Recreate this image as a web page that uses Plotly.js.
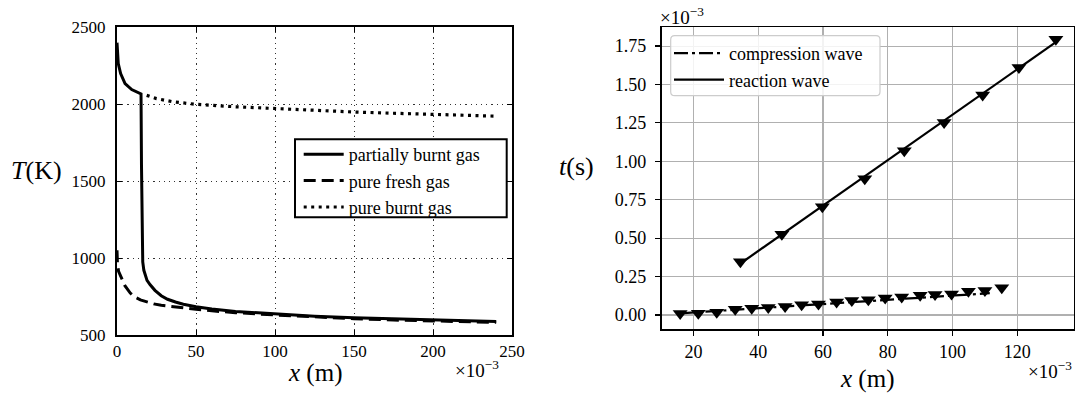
<!DOCTYPE html>
<html>
<head>
<meta charset="utf-8">
<script src="https://cdn.plot.ly/plotly-3.0.1.min.js"></script>
<style>
html,body{margin:0;padding:0;background:#fff;}
#chart{width:1075px;height:394px;}
</style>
</head>
<body>
<div id="chart"></div>
<script>
// ---------- Left panel: temperature profiles (x in 1e-3 m, T in K) ----------
const partialX = [0, 0.8, 2.3, 5.1, 9.3, 14.6, 15.2, 15.5, 15.8, 16.3, 17, 18, 19, 21, 24, 28, 32, 37, 42, 50, 60, 75, 100, 125, 150, 175, 200, 220, 240];
const partialT = [2398, 2263, 2198, 2133, 2094, 2071, 2066, 1600, 1050, 975, 920, 880, 855, 826, 790, 755, 732, 714, 700, 684, 669, 653, 636, 622, 612, 604, 598, 592, 587];

const freshX = [0, 0.3, 1, 3.2, 5, 8.4, 11, 14.8, 19, 23.2, 28, 33.8, 40, 50, 60, 75, 100, 125, 150, 175, 200, 220, 240];
const freshT = [1050, 960, 913, 859, 820, 772, 748, 728, 713, 702, 693, 685, 676, 667, 657, 645, 630, 617, 606, 597, 590, 586, 582];

const burntX = [18.8, 25, 35, 50, 75, 100, 125, 150, 175, 200, 220, 240];
const burntT = [2056, 2035, 2015, 1998, 1982, 1970, 1958, 1948, 1940, 1932, 1926, 1921];

// ---------- Right panel: wave trajectories (x in 1e-3 m, t in 1e-3 s) ----------
const compX = [15.9, 21.5, 27.2, 32.9, 38.0, 43.1, 48.3, 53.4, 58.6, 64.2, 68.9, 74.0, 79.2, 84.3, 90.0, 94.6, 99.7, 104.9, 110.0, 115.2];
const compT = [0.009, 0.011, 0.018, 0.038, 0.044, 0.049, 0.055, 0.066, 0.071, 0.084, 0.095, 0.100, 0.111, 0.117, 0.128, 0.133, 0.137, 0.155, 0.159, 0.177];
const compLineX = [16.0, 111.5];
const compLineT = [0.011, 0.142];

const reacX = [34.5, 47.3, 59.8, 72.9, 85.1, 97.4, 109.3, 120.5, 131.9];
const reacT = [0.347, 0.525, 0.705, 0.887, 1.069, 1.252, 1.432, 1.610, 1.794];
const reacLineX = [34.5, 131.9];
const reacLineT = [0.335, 1.775];

const leftLegendNames = ['partially burnt gas', 'pure fresh gas', 'pure burnt gas'];
const rightLegendNames = ['compression wave', 'reaction wave'];

const SERIF = '"Liberation Serif", "DejaVu Serif", serif';
const W = 1075, H = 394;
const px = v => v / W;
const py = v => 1 - v / H;

const traces = [
  {x: partialX, y: partialT, type: 'scatter', mode: 'lines', name: leftLegendNames[0],
   line: {color: '#000', width: 3}, xaxis: 'x', yaxis: 'y', legend: 'legend', legendgroup: 'a'},
  {x: freshX, y: freshT, type: 'scatter', mode: 'lines', name: leftLegendNames[1],
   line: {color: '#000', width: 3, dash: '12px,6px'}, xaxis: 'x', yaxis: 'y', legend: 'legend', legendgroup: 'b'},
  {x: burntX, y: burntT, type: 'scatter', mode: 'lines', name: leftLegendNames[2],
   line: {color: '#000', width: 3.2, dash: '3px,4.5px'}, xaxis: 'x', yaxis: 'y', legend: 'legend', legendgroup: 'c'},

  {x: compLineX, y: compLineT, type: 'scatter', mode: 'lines', name: rightLegendNames[0],
   line: {color: '#000', width: 2.2, dash: '14px,4px,3px,4px'}, xaxis: 'x2', yaxis: 'y2', legend: 'legend2', legendgroup: 'd'},
  {x: reacLineX, y: reacLineT, type: 'scatter', mode: 'lines', name: rightLegendNames[1],
   line: {color: '#000', width: 2.2}, xaxis: 'x2', yaxis: 'y2', legend: 'legend2', legendgroup: 'e'},
  {x: compX, y: compT, type: 'scatter', mode: 'markers', showlegend: false,
   marker: {symbol: 'triangle-down', size: 13, color: '#000'}, xaxis: 'x2', yaxis: 'y2'},
  {x: reacX, y: reacT, type: 'scatter', mode: 'markers', showlegend: false,
   marker: {symbol: 'triangle-down', size: 13, color: '#000'}, xaxis: 'x2', yaxis: 'y2'}
];

function roundedRect(x0, y0, x1, y1, r) {
  const rx = r / W, ry = r / H;
  return `M${x0 + rx},${y0} L${x1 - rx},${y0} Q${x1},${y0} ${x1},${y0 + ry} ` +
         `L${x1},${y1 - ry} Q${x1},${y1} ${x1 - rx},${y1} L${x0 + rx},${y1} ` +
         `Q${x0},${y1} ${x0},${y1 - ry} L${x0},${y0 + ry} Q${x0},${y0} ${x0 + rx},${y0} Z`;
}

const leftAxisCommon = {
  ticks: 'inside', ticklen: 5, tickwidth: 1, tickcolor: '#000',
  showline: true, linecolor: '#000', linewidth: 2, mirror: 'ticks',
  showgrid: true, gridcolor: '#333', gridwidth: 1, griddash: '1.2px,4px',
  zeroline: false, tickfont: {family: SERIF, size: 17, color: '#000'}
};
const rightAxisCommon = {
  ticks: 'outside', ticklen: 5.5, tickwidth: 1.2, tickcolor: '#000',
  showline: true, linecolor: '#000', linewidth: 1.4, mirror: true,
  showgrid: true, gridcolor: '#b0b0b0', gridwidth: 1.1,
  zeroline: false, tickfont: {family: SERIF, size: 18, color: '#000'}
};

const layout = {
  width: W, height: H,
  margin: {l: 0, r: 0, t: 0, b: 0},
  paper_bgcolor: '#fff', plot_bgcolor: '#fff',
  font: {family: SERIF, color: '#000'},
  xaxis: Object.assign({}, leftAxisCommon, {domain: [px(117), px(512)], range: [0, 250], tick0: 0, dtick: 50, anchor: 'y', ticklabelstandoff: 0}),
  yaxis: Object.assign({}, leftAxisCommon, {domain: [py(335), py(27)], range: [500, 2500], tick0: 500, dtick: 500, anchor: 'x', ticklabelstandoff: 6}),
  xaxis2: Object.assign({}, rightAxisCommon, {domain: [px(661.7), px(1074)], range: [10.2, 137.5], tick0: 0, dtick: 20, anchor: 'y2', ticklabelstandoff: 0}),
  yaxis2: Object.assign({}, rightAxisCommon, {domain: [py(329.3), py(27.3)], range: [-0.093, 1.872], tick0: 0, dtick: 0.25, tickformat: '.2f', anchor: 'x2', ticklabelstandoff: 5}),
  legend: {
    x: px(298.7), y: py(136), xanchor: 'left', yanchor: 'top',
    bgcolor: 'rgba(0,0,0,0)', borderwidth: 0, itemwidth: 40,
    traceorder: 'grouped', tracegroupgap: 0,
    font: {family: SERIF, size: 18, color: '#000'}
  },
  legend2: {
    x: px(669), y: py(35), xanchor: 'left', yanchor: 'top',
    bgcolor: 'rgba(0,0,0,0)', borderwidth: 0, itemwidth: 50,
    traceorder: 'grouped', tracegroupgap: 0,
    font: {family: SERIF, size: 18, color: '#000'}
  },
  shapes: [
    {type: 'rect', xref: 'paper', yref: 'paper', layer: 'above',
     x0: px(295), x1: px(506.7), y0: py(217.3), y1: py(139.3),
     line: {color: '#000', width: 2}, fillcolor: '#fff'},
    {type: 'path', xref: 'paper', yref: 'paper', layer: 'above',
     path: roundedRect(px(670.7), py(95.7), px(880), py(35.7), 4),
     line: {color: '#cccccc', width: 1.2}, fillcolor: 'rgba(255,255,255,0.85)'}
  ],
  annotations: [
    {xref: 'paper', yref: 'paper', x: px(36.7), y: py(170), xanchor: 'center', yanchor: 'middle',
     text: '<i>T</i>(K)', showarrow: false, font: {family: SERIF, size: 26, color: '#000'}},
    {xref: 'paper', yref: 'paper', x: px(314.5), y: py(373), xanchor: 'center', yanchor: 'middle',
     text: '<i>x</i> (m)', showarrow: false, font: {family: SERIF, size: 25, color: '#000'}},
    {xref: 'paper', yref: 'paper', x: px(501), y: py(369), xanchor: 'right', yanchor: 'middle',
     text: '×10<sup>−3</sup>', showarrow: false, font: {family: SERIF, size: 19, color: '#000'}},
    {xref: 'paper', yref: 'paper', x: px(576.7), y: py(166), xanchor: 'center', yanchor: 'middle',
     text: '<i>t</i>(s)', showarrow: false, font: {family: SERIF, size: 26, color: '#000'}},
    {xref: 'paper', yref: 'paper', x: px(866.7), y: py(379), xanchor: 'center', yanchor: 'middle',
     text: '<i>x</i> (m)', showarrow: false, font: {family: SERIF, size: 25, color: '#000'}},
    {xref: 'paper', yref: 'paper', x: px(1074), y: py(370), xanchor: 'right', yanchor: 'middle',
     text: '×10<sup>−3</sup>', showarrow: false, font: {family: SERIF, size: 19, color: '#000'}},
    {xref: 'paper', yref: 'paper', x: px(658), y: py(16), xanchor: 'left', yanchor: 'middle',
     text: '×10<sup>−3</sup>', showarrow: false, font: {family: SERIF, size: 19, color: '#000'}}
  ]
};

Plotly.newPlot('chart', traces, layout, {displayModeBar: false, staticPlot: true});
</script>
</body>
</html>
